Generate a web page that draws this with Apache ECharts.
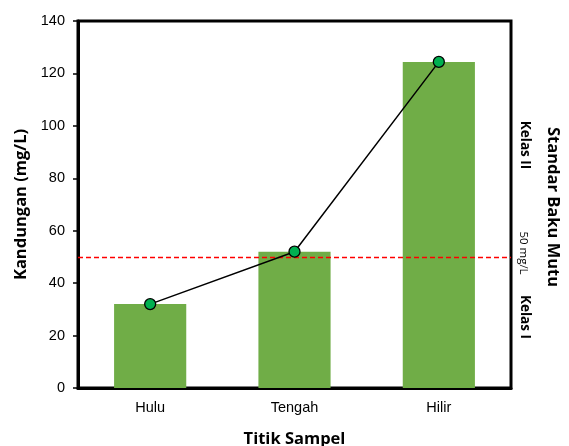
<!DOCTYPE html>
<html><head><meta charset="utf-8">
<script src="https://cdn.jsdelivr.net/npm/echarts@6/dist/echarts.min.js"></script>
<style>html,body{margin:0;padding:0;background:#fff}#c{width:569px;height:446px}</style>
</head><body><div id="c"></div>
<script>
const categories = ['Hulu', 'Tengah', 'Hilir'];
const barValues = [32, 52, 124.4];
const lineValues = [32, 52, 124.4];
const thresholdValue = 50;
const yTicks = [0, 20, 40, 60, 80, 100, 120, 140];

const chart = echarts.init(document.getElementById('c'));
const tickFont = {fontFamily: 'Liberation Sans, Arial, sans-serif', fontSize: 14.5, color: '#000'};
const titleFont = {fontFamily: 'Open Sans, Noto Sans, sans-serif', fontSize: 16.5, fontWeight: 'bold', color: '#000'};
const redDash = {color: '#ff0000', type: [5, 3], width: 1.3, opacity: 1};
chart.setOption({
  animation: false,
  grid: {left: 78, right: 58, top: 21, bottom: 58, outerBoundsMode: 'none', containLabel: false,
         show: true, borderColor: '#000', borderWidth: 3, backgroundColor: 'transparent'},
  xAxis: {
    type: 'category', data: categories,
    axisLine: {lineStyle: {color: '#000', width: 3}},
    axisTick: {show: false},
    axisLabel: Object.assign({margin: 12}, tickFont),
    name: 'Titik Sampel', nameLocation: 'middle', nameGap: 43,
    nameTextStyle: titleFont
  },
  yAxis: {
    type: 'value', min: yTicks[0], max: yTicks[yTicks.length - 1], interval: 20,
    axisLine: {show: true, lineStyle: {color: '#000', width: 3}},
    axisTick: {show: true, length: 5, lineStyle: {color: '#000', width: 1.5}},
    axisLabel: Object.assign({margin: 13}, tickFont),
    splitLine: {show: false},
    name: 'Kandungan (mg/L)', nameLocation: 'middle', nameGap: 43,
    nameTextStyle: titleFont
  },
  series: [
    {
      type: 'bar', data: barValues, barWidth: '50%',
      itemStyle: {color: '#70ad47'},
      markLine: {
        silent: true, symbol: 'none', label: {show: false},
        lineStyle: redDash,
        emphasis: {disabled: true},
        data: [{yAxis: thresholdValue, lineStyle: redDash}]
      }
    },
    {
      type: 'line', data: lineValues,
      lineStyle: {color: '#000', width: 1.5},
      symbol: 'circle', symbolSize: 11,
      itemStyle: {color: '#00b050', borderColor: '#000', borderWidth: 1.3},
      z: 5
    }
  ],
  graphic: [
    {type: 'text', x: 525, y: 145, rotation: -Math.PI / 2,
     style: {text: 'Kelas II', font: 'bold 13.5px "Open Sans", sans-serif', fill: '#000', align: 'center', verticalAlign: 'middle'}},
    {type: 'text', x: 523, y: 253, rotation: -Math.PI / 2,
     style: {text: '50 mg/L', font: '11.5px "Open Sans", sans-serif', fill: '#000', align: 'center', verticalAlign: 'middle'}},
    {type: 'text', x: 525, y: 317, rotation: -Math.PI / 2,
     style: {text: 'Kelas I', font: 'bold 13.5px "Open Sans", sans-serif', fill: '#000', align: 'center', verticalAlign: 'middle'}},
    {type: 'text', x: 553, y: 207, rotation: -Math.PI / 2,
     style: {text: 'Standar Baku Mutu', font: 'bold 16.5px "Open Sans", sans-serif', fill: '#000', align: 'center', verticalAlign: 'middle'}}
  ]
});
</script></body></html>
